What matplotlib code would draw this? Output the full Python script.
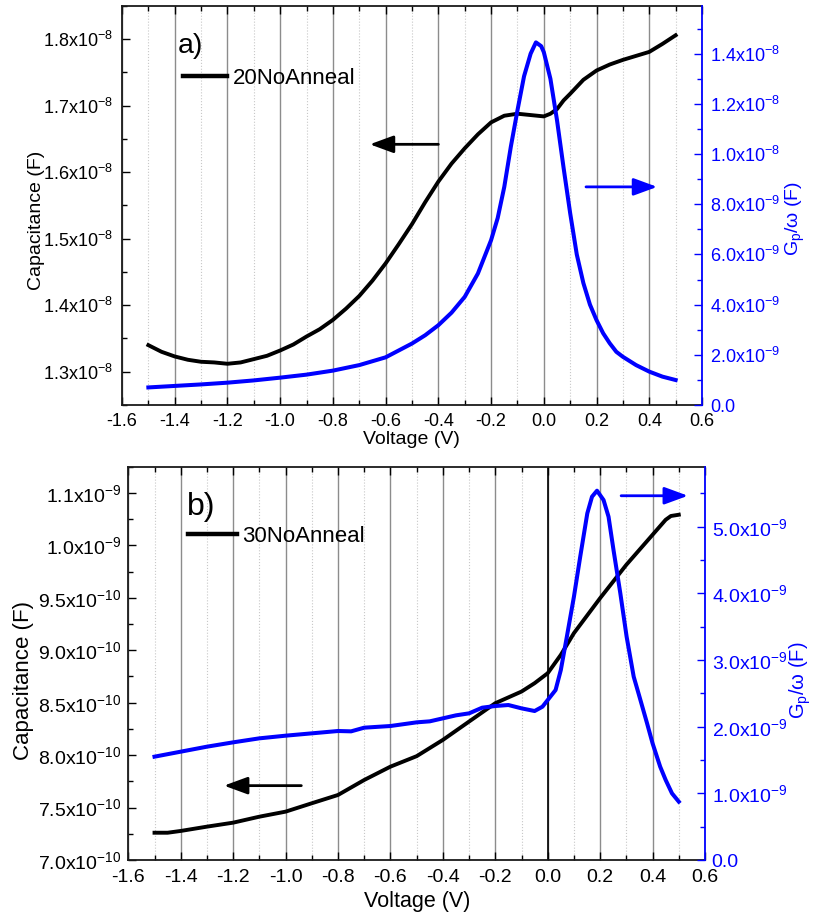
import matplotlib
matplotlib.use("Agg")
import matplotlib.pyplot as plt
from matplotlib.ticker import FixedLocator, MultipleLocator
from matplotlib.lines import Line2D

plt.rcParams['font.family'] = ['Liberation Sans', 'DejaVu Sans']
plt.rcParams['mathtext.fontset'] = 'custom'
plt.rcParams['mathtext.rm'] = 'Liberation Sans'
plt.rcParams['mathtext.it'] = 'Liberation Sans:italic'
plt.rcParams['mathtext.default'] = 'regular'

BLUE = '#0000FF'

# ---------------- panel a: 20NoAnneal ----------------
volt_a = [-1.5, -1.45, -1.4, -1.35, -1.3, -1.25, -1.2, -1.15, -1.1, -1.05,
          -1.0, -0.95, -0.9, -0.85, -0.8, -0.75, -0.7, -0.65, -0.6, -0.55,
          -0.5, -0.45, -0.4, -0.35, -0.3, -0.25, -0.2, -0.15, -0.1, -0.05,
          0.0, 0.025, 0.05, 0.075, 0.1, 0.15, 0.2, 0.25, 0.3, 0.35, 0.4,
          0.45, 0.5]
cap_a = [1.340, 1.330, 1.323, 1.318, 1.315, 1.314, 1.312, 1.314, 1.319, 1.324,
         1.332, 1.341, 1.353, 1.364, 1.378, 1.395, 1.414, 1.437, 1.463, 1.492,
         1.522, 1.555, 1.586, 1.613, 1.636, 1.657, 1.675, 1.685, 1.688, 1.686,
         1.684, 1.688, 1.695, 1.708, 1.718, 1.739, 1.753, 1.762, 1.769, 1.775,
         1.781, 1.793, 1.806]  # x1e-8 F

volt_ga = [-1.5, -1.4, -1.3, -1.2, -1.1, -1.0, -0.9, -0.8, -0.7, -0.6, -0.5,
           -0.45, -0.4, -0.35, -0.3, -0.25, -0.2, -0.175, -0.15, -0.125, -0.1,
           -0.075, -0.05, -0.03, -0.01, 0.0, 0.025, 0.05, 0.075, 0.1, 0.125,
           0.15, 0.175, 0.2, 0.225, 0.25, 0.275, 0.3, 0.35, 0.4, 0.45, 0.5]
gw_a = [0.070, 0.076, 0.082, 0.089, 0.098, 0.109, 0.121, 0.137, 0.159, 0.190,
        0.245, 0.278, 0.318, 0.368, 0.431, 0.524, 0.657, 0.745, 0.869, 1.030,
        1.174, 1.310, 1.400, 1.445, 1.430, 1.406, 1.300, 1.135, 0.945, 0.764,
        0.600, 0.486, 0.400, 0.338, 0.286, 0.246, 0.212, 0.192, 0.159, 0.133,
        0.113, 0.0995]  # x1e-8 F

# ---------------- panel b: 30NoAnneal ----------------
volt_b = [-1.5, -1.45, -1.4, -1.3, -1.2, -1.1, -1.0, -0.9, -0.8, -0.7, -0.6,
          -0.5, -0.4, -0.3, -0.2, -0.1, -0.05, 0.0, 0.05, 0.1, 0.2, 0.3, 0.4,
          0.45, 0.47, 0.5]
cap_b = [7.26, 7.26, 7.277, 7.318, 7.356, 7.413, 7.461, 7.541, 7.620, 7.763,
         7.890, 7.990, 8.145, 8.320, 8.495, 8.606, 8.686, 8.781, 8.956, 9.163,
         9.497, 9.815, 10.101, 10.244, 10.28, 10.292]  # x1e-10 F

volt_gb = [-1.5, -1.4, -1.3, -1.2, -1.1, -1.0, -0.9, -0.8, -0.75, -0.7, -0.6,
           -0.5, -0.45, -0.4, -0.35, -0.3, -0.25, -0.2, -0.15, -0.1, -0.05,
           -0.02, 0.0, 0.03, 0.05, 0.073, 0.1, 0.124, 0.151, 0.169, 0.188,
           0.213, 0.232, 0.251, 0.277, 0.301, 0.328, 0.35, 0.379, 0.4, 0.429,
           0.45, 0.474, 0.5]
gw_b = [1.55, 1.625, 1.70, 1.765, 1.825, 1.865, 1.90, 1.935, 1.93, 1.985, 2.01,
        2.065, 2.08, 2.125, 2.17, 2.20, 2.285, 2.31, 2.325, 2.275, 2.235, 2.30,
        2.40, 2.55, 2.85, 3.35, 3.95, 4.55, 5.20, 5.45, 5.54, 5.40, 5.15, 4.65,
        4.00, 3.35, 2.75, 2.45, 2.05, 1.75, 1.40, 1.20, 1.00, 0.875]  # x1e-9 F

# ---------------- axis ticks and labels ----------------
x_ticks = [-1.6, -1.4, -1.2, -1.0, -0.8, -0.6, -0.4, -0.2, 0.0, 0.2, 0.4, 0.6]
x_labels = ['-1.6', '-1.4', '-1.2', '-1.0', '-0.8', '-0.6', '-0.4', '-0.2',
            '0.0', '0.2', '0.4', '0.6']

a_left_ticks = [1.3e-8, 1.4e-8, 1.5e-8, 1.6e-8, 1.7e-8, 1.8e-8]
a_left_labels = ['1.3x10$^{-8}$', '1.4x10$^{-8}$', '1.5x10$^{-8}$',
                 '1.6x10$^{-8}$', '1.7x10$^{-8}$', '1.8x10$^{-8}$']
a_right_ticks = [0.0, 2e-9, 4e-9, 6e-9, 8e-9, 1.0e-8, 1.2e-8, 1.4e-8]
a_right_labels = ['0.0', '2.0x10$^{-9}$', '4.0x10$^{-9}$', '6.0x10$^{-9}$',
                  '8.0x10$^{-9}$', '1.0x10$^{-8}$', '1.2x10$^{-8}$',
                  '1.4x10$^{-8}$']

b_left_ticks = [7.0e-10, 7.5e-10, 8.0e-10, 8.5e-10, 9.0e-10, 9.5e-10,
                1.0e-9, 1.05e-9]
b_left_labels = ['7.0x10$^{-10}$', '7.5x10$^{-10}$', '8.0x10$^{-10}$',
                 '8.5x10$^{-10}$', '9.0x10$^{-10}$', '9.5x10$^{-10}$',
                 '1.0x10$^{-9}$', '1.1x10$^{-9}$']
b_right_ticks = [0.0, 1e-9, 2e-9, 3e-9, 4e-9, 5e-9]
b_right_labels = ['0.0', '1.0x10$^{-9}$', '2.0x10$^{-9}$', '3.0x10$^{-9}$',
                  '4.0x10$^{-9}$', '5.0x10$^{-9}$']

W, H = 814, 913
fig = plt.figure(figsize=(W / 100, H / 100), dpi=100)


def px_axes(left, top, right, bottom):
    return fig.add_axes([left / W, 1 - bottom / H, (right - left) / W,
                         (bottom - top) / H])


def style_panel(ax, ax2, tsize, lpad, rpad, bpad):
    ax.set_xlim(-1.6, 0.6)
    ax.xaxis.set_major_locator(FixedLocator(x_ticks))
    ax.set_xticklabels(x_labels)
    ax.xaxis.set_minor_locator(MultipleLocator(0.1))
    ax.grid(True, axis='x', which='major', color='#8c8c8c', lw=1.0, ls='-')
    ax.grid(True, axis='x', which='minor', color='#c8c8c8', lw=0.8, ls=':')
    ax.set_axisbelow(True)
    ax.tick_params(axis='x', which='both', direction='in', top=True,
                   bottom=True, labelsize=tsize, pad=bpad, width=1.0)
    ax.tick_params(axis='x', which='major', length=6)
    ax.tick_params(axis='x', which='minor', length=3.5)
    ax.tick_params(axis='y', which='both', direction='in', left=True,
                   right=False, labelsize=tsize, pad=lpad, width=1.0)
    ax.tick_params(axis='y', which='major', length=6)
    ax.tick_params(axis='y', which='minor', length=3.5)
    ax2.tick_params(axis='y', which='both', direction='in', right=True,
                    left=False, labelsize=tsize, pad=rpad, width=1.0,
                    colors=BLUE)
    ax2.tick_params(axis='y', which='major', length=6)
    ax2.tick_params(axis='y', which='minor', length=3.5)
    for s in ['left', 'top', 'bottom']:
        ax.spines[s].set_color('#1a1a1a')
        ax.spines[s].set_linewidth(1.3)
    ax.spines['right'].set_visible(False)
    for s in ['left', 'top', 'bottom']:
        ax2.spines[s].set_visible(False)
    ax2.spines['right'].set_color(BLUE)
    ax2.spines['right'].set_linewidth(1.3)


def arrow(ax, x0, x1, y, color):
    ax.annotate('', xy=(x1, y), xytext=(x0, y), xycoords='data',
                arrowprops=dict(arrowstyle='-|>,head_length=0.6,head_width=0.22',
                                mutation_scale=24, color=color, lw=2.0,
                                shrinkA=0, shrinkB=0))


# ---------------- panel a ----------------
axa = px_axes(122, 6, 702, 405)
axa2 = axa.twinx()
axa.plot(volt_a, [c * 1e-8 for c in cap_a], color='black', lw=2.8,
         solid_joinstyle='round')
axa2.plot(volt_ga, [g * 1e-8 for g in gw_a], color=BLUE, lw=2.9,
          solid_joinstyle='round')
axa.set_ylim(1.25e-8, 1.85e-8)
axa.yaxis.set_major_locator(FixedLocator(a_left_ticks))
axa.set_yticklabels(a_left_labels)
axa.yaxis.set_minor_locator(MultipleLocator(0.05e-8))
axa2.set_ylim(0.0, 1.59e-8)
axa2.yaxis.set_major_locator(FixedLocator(a_right_ticks))
axa2.set_yticklabels(a_right_labels)
axa2.yaxis.set_minor_locator(MultipleLocator(1e-9))
style_panel(axa, axa2, 13, 6.5, 5.8, 6)
arrow(axa, -0.40, -0.66, 1.642e-8, 'black')
arrow(axa, 0.16, 0.43, 1.578e-8, BLUE)
axa.text(0.0966, 0.882, 'a)', transform=axa.transAxes, fontsize=20.5,
         ha='left', va='baseline')
axa.legend(handles=[Line2D([], [], color='black', lw=3.2)],
           labels=['20NoAnneal'], loc='upper left',
           bbox_to_anchor=(0.105, 0.845), frameon=False, fontsize=16,
           handlelength=2.0, handletextpad=0.25, borderpad=0,
           borderaxespad=0)
fig.text(411.7 / W, 1 - 439 / H, 'Voltage (V)', fontsize=14,
         ha='center', va='center')
fig.text(36.5 / W, 1 - 220 / H, 'Capacitance (F)', fontsize=14,
         rotation=90, ha='center', va='center')
fig.text(795 / W, 1 - 218 / H, r'G$_p$/ω (F)', fontsize=14, color=BLUE,
         rotation=90, ha='center', va='center')

# ---------------- panel b ----------------
axb = px_axes(128.3, 466.7, 705, 860)
axb2 = axb.twinx()
axb.axvline(0.0, color='black', lw=1.2, zorder=1)
axb.plot(volt_b, [c * 1e-10 for c in cap_b], color='black', lw=2.8,
         solid_joinstyle='round')
axb2.plot(volt_gb, [g * 1e-9 for g in gw_b], color=BLUE, lw=2.9,
          solid_joinstyle='round')
axb.set_ylim(7.0e-10, 10.75e-10)
axb.yaxis.set_major_locator(FixedLocator(b_left_ticks))
axb.set_yticklabels(b_left_labels)
axb.yaxis.set_minor_locator(MultipleLocator(0.25e-10))
axb2.set_ylim(0.0, 5.9e-9)
axb2.yaxis.set_major_locator(FixedLocator(b_right_ticks))
axb2.set_yticklabels(b_right_labels)
axb2.yaxis.set_minor_locator(MultipleLocator(0.5e-9))
style_panel(axb, axb2, 14, 5, 4.8, 6.5)
arrow(axb, -0.94, -1.235, 7.709e-10, 'black')
arrow(axb, 0.28, 0.535, 10.473e-10, BLUE)
axb.text(0.101, 0.877, 'b)', transform=axb.transAxes, fontsize=23,
         ha='left', va='baseline')
axb.legend(handles=[Line2D([], [], color='black', lw=3.2)],
           labels=['30NoAnneal'], loc='upper left',
           bbox_to_anchor=(0.1035, 0.850), frameon=False, fontsize=16,
           handlelength=2.2, handletextpad=0.25, borderpad=0,
           borderaxespad=0)
fig.text(417 / W, 1 - 901 / H, 'Voltage (V)', fontsize=15.5,
         ha='center', va='center')
fig.text(24 / W, 1 - 680 / H, 'Capacitance (F)', fontsize=16,
         rotation=90, ha='center', va='center')
fig.text(813 / W, 1 - 680 / H, r'G$_p$/ω (F)', fontsize=14.5, color=BLUE,
         rotation=90, ha='right', va='center')

fig.savefig('out.png', dpi=100)
